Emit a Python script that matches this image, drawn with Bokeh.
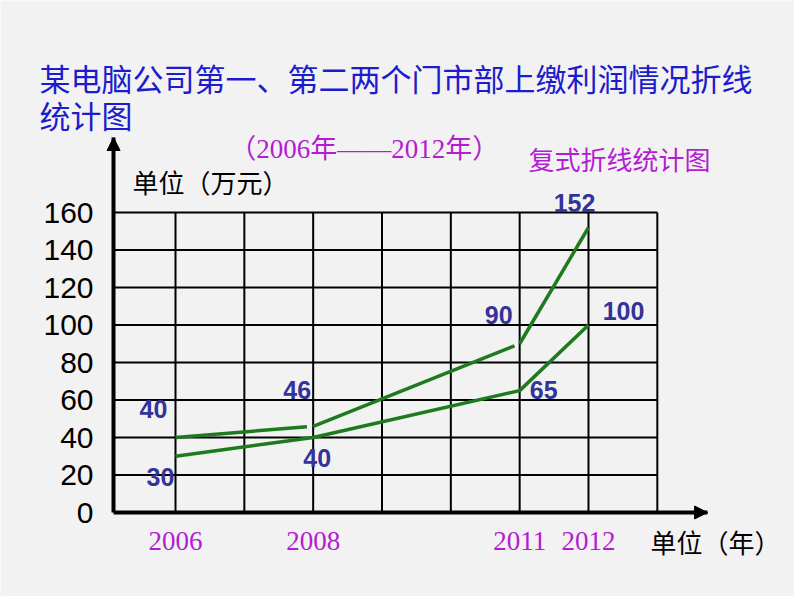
from bokeh.plotting import figure
from bokeh.models import Range1d, FixedTicker, Label, Arrow, NormalHead, ColumnDataSource
from bokeh.core.properties import value
from bokeh.embed import file_html
from bokeh.resources import INLINE

# ---- data ----
years = [2006, 2008, 2011, 2012]
store1 = [40, 46, 90, 152]
store2 = [30, 40, 65, 100]
y_ticks = [0, 20, 40, 60, 80, 100, 120, 140, 160]
grid_years = [2006, 2007, 2008, 2009, 2010, 2011, 2012, 2013]

title_line1 = "某电脑公司第一、第二两个门市部上缴利润情况折线"
title_line2 = "统计图"
subtitle = "（2006年——2012年）"
kind_text = "复式折线统计图"
y_unit = "单位（万元）"
x_unit = "单位（年）"

# ---- layout / style ----
# the plotting frame covers the whole canvas; axes sit at fixed locations
VX0, VX1 = 2003.4575, 2014.993
VY0, VY1 = -44.8, 273.067
AX_X0, AX_X1 = 2005.1, 2013.73     # extent of the x axis (arrow tip)
AX_Y1 = 200                        # y axis arrow tip
BG = "#f2f2f2"
BLUE = "#1c1ccc"
MAGENTA = "#b41cd2"
NAVY = "#333399"
GREEN = "#1e7a1e"
CJK = "'Noto Sans CJK SC', sans-serif"
SERIF_CJK = "'Liberation Serif', 'Noto Sans CJK SC', serif"

label_dx1 = [-22, -16, -21, -14]
label_dy1 = [-29, -36, -29, -25]
label_dx2 = [-15, 4, 24, 35]
label_dy2 = [21, 20, -1, -14]
seg_gap1 = [0.09, 0.075, 0.0]   # small hand-drawn gaps in series 1

p = figure(width=794, height=596, title=None,
           x_range=Range1d(VX0, VX1), y_range=Range1d(VY0, VY1),
           output_backend="svg", toolbar_location=None,
           min_border=0,
           background_fill_color=BG, border_fill_color=BG,
           outline_line_color=None)
p.xgrid.visible = False
p.ygrid.visible = False

# axes
xa = p.xaxis[0]
ya = p.yaxis[0]
ya.fixed_location = AX_X0
xa.fixed_location = 0
ya.bounds = (0, AX_Y1)
xa.bounds = (AX_X0, AX_X1)
ya.ticker = FixedTicker(ticks=y_ticks)
xa.ticker = FixedTicker(ticks=years)
for ax in (xa, ya):
    ax.axis_line_width = 4
    ax.axis_line_color = "black"
    ax.major_tick_line_color = None
    ax.minor_tick_line_color = None
ya.major_label_text_font = "Liberation Sans"
ya.major_label_text_font_size = "30px"
ya.major_label_text_color = "black"
ya.major_label_standoff = 14
xa.major_label_text_font = "Liberation Serif"
xa.major_label_text_font_size = "27px"
xa.major_label_text_color = MAGENTA
xa.major_label_standoff = 13

# grid box (only up to 160 and 2013)
p.segment(x0=grid_years, y0=[0] * len(grid_years), x1=grid_years,
          y1=[y_ticks[-1]] * len(grid_years), line_color="black", line_width=2)
p.segment(x0=[AX_X0] * (len(y_ticks) - 1), y0=y_ticks[1:],
          x1=[grid_years[-1]] * (len(y_ticks) - 1), y1=y_ticks[1:],
          line_color="black", line_width=2)

# arrow heads on axes
p.add_layout(Arrow(end=NormalHead(size=13, fill_color="black", line_color="black"),
                   x_start=AX_X0, y_start=AX_Y1 - 10, x_end=AX_X0, y_end=AX_Y1,
                   line_alpha=0))
p.add_layout(Arrow(end=NormalHead(size=13, fill_color="black", line_color="black"),
                   x_start=AX_X1 - 0.3, y_start=0, x_end=AX_X1, y_end=0,
                   line_alpha=0))

# series 1 (drawn as segments with small gaps)
sx0, sy0, sx1, sy1 = [], [], [], []
for i in range(len(years) - 1):
    xa_, ya_, xb_, yb_ = years[i], store1[i], years[i + 1], store1[i + 1]
    xe = xb_ - seg_gap1[i]
    ye = ya_ + (yb_ - ya_) * (xe - xa_) / (xb_ - xa_)
    sx0.append(xa_); sy0.append(ya_); sx1.append(xe); sy1.append(ye)
p.segment(x0=sx0, y0=sy0, x1=sx1, y1=sy1, line_color=GREEN, line_width=3.5)

# series 2
p.line(years, store2, line_color=GREEN, line_width=3.5)

# value labels
lab = ColumnDataSource(dict(
    x=years + years,
    y=store1 + store2,
    t=[str(v) for v in store1 + store2],
    dx=label_dx1 + label_dx2,
    dy=label_dy1 + label_dy2,
))
p.text(x="x", y="y", text="t", x_offset="dx", y_offset="dy", source=lab,
       text_font=value("Liberation Sans"), text_font_style="bold",
       text_font_size="25px", text_color=NAVY,
       text_align="center", text_baseline="middle")

# texts
def add_label(x, y, text, size, color, font):
    p.add_layout(Label(x=x, y=y, text=text, text_font_size=size,
                       text_color=color, text_font=font,
                       text_align="left", text_baseline="middle"))

add_label(2004.025, 232.0, title_line1, "31px", BLUE, CJK)
add_label(2004.025, 212.3, title_line2, "31px", BLUE, CJK)
add_label(2006.78, 194.1, subtitle, "27px", MAGENTA, SERIF_CJK)
add_label(2011.13, 188.8, kind_text, "26px", MAGENTA, CJK)
add_label(2005.376, 176.5, y_unit, "26px", "black", CJK)
add_label(2012.90, -15.5, x_unit, "26px", "black", CJK)

open("out.html", "w").write(file_html(p, INLINE))
